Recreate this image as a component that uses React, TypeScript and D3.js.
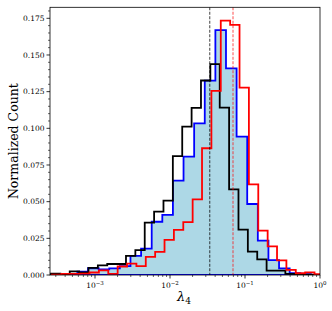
import React from 'react';
import * as d3 from 'd3';

const W = 332;
const H = 311;
const PLOT = { left: 50, right: 320, top: 7.3, bottom: 275 };

// log10 bin layout of each histogram
const blackStartLog = -3.587;
const blackBinLog = 0.125;
const blackValues = [
  0.001, 0.0004, 0.0025, 0.0018, 0.0048, 0.0065, 0.0075, 0.0075, 0.013, 0.017,
  0.0357, 0.0432, 0.0507, 0.0811, 0.1011, 0.114, 0.1326, 0.1437, 0.1141, 0.0584,
  0.031, 0.016, 0.0107, 0.003, 0.003, 0.0008, 0.0005, 0.0003,
];

const redStartLog = -3.573;
const redBinLog = 0.125;
const redValues = [
  0.0003, 0.0007, 0.0007, 0.001, 0.0017, 0.0031, 0.0007, 0.0058, 0.0078, 0.0061,
  0.0123, 0.0157, 0.0239, 0.0307, 0.036, 0.0516, 0.0864, 0.1255, 0.1734, 0.1705,
  0.1277, 0.0618, 0.0302, 0.0195, 0.01, 0.0035, 0.0012, 0.0018, 0.0005,
];

const blueStartLog = -3.5175;
const blueBinLog = 0.1415;
const blueValues = [
  0.0007, 0.0007, 0.0023, 0.0046, 0.0038, 0.0045, 0.006, 0.013, 0.018,
  0.0363, 0.041, 0.0643, 0.0807, 0.1034, 0.1325, 0.167, 0.1409, 0.0943, 0.0484,
  0.0234, 0.0102, 0.0045, 0.0012, 0.0005,
];

const blackMarker = 0.0338;
const redMarker = 0.0692;

const xDomain = [Math.pow(10, -3.6), 1];
const yDomain = [0, 0.1825];
const yTicks = [0, 0.025, 0.05, 0.075, 0.1, 0.125, 0.15, 0.175];
const yMinorStep = 0.005;
const xTickExps = [-3, -2, -1, 0];

const SERIF = "'DejaVu Serif', 'Liberation Serif', serif";

export default function App() {
  const x = d3.scaleLog().domain(xDomain).range([PLOT.left, PLOT.right]);
  const y = d3.scaleLinear().domain(yDomain).range([PLOT.bottom, PLOT.top]);

  const stepPath = (startLog: number, binLog: number, values: number[], closed: boolean) => {
    const edge = (i: number) => x(Math.pow(10, startLog + i * binLog));
    const pts: [number, number][] = [];
    pts.push([edge(0), y(0)]);
    values.forEach((v, i) => {
      pts.push([edge(i), y(v)]);
      pts.push([edge(i + 1), y(v)]);
    });
    pts.push([edge(values.length), y(0)]);
    const p = d3.line()(pts) as string;
    return closed ? p + 'Z' : p;
  };

  const yMinor: number[] = [];
  for (let v = 0; v <= yDomain[1] + 1e-9; v += yMinorStep) {
    const r = Math.round(v * 1000) / 1000;
    if (Math.abs(r / 0.025 - Math.round(r / 0.025)) > 1e-6) yMinor.push(r);
  }
  const xMinor: number[] = [];
  for (let d = -4; d <= -1; d++) {
    for (let m = 2; m <= 9; m++) {
      const v = m * Math.pow(10, d);
      if (v >= xDomain[0] && v <= xDomain[1]) xMinor.push(v);
    }
  }

  const bluePath = stepPath(blueStartLog, blueBinLog, blueValues, true);

  return (
    <svg
      width={W}
      height={H}
      viewBox={`0 0 ${W} ${H}`}
      style={{ position: 'absolute', left: 0, top: 0, background: '#fff' }}
    >
      <defs>
        <clipPath id="plotClip">
          <rect x={PLOT.left} y={PLOT.top} width={PLOT.right - PLOT.left} height={PLOT.bottom - PLOT.top} />
        </clipPath>
      </defs>
      <rect x={0} y={0} width={W} height={H} fill="#fff" />
      <g clipPath="url(#plotClip)">
        <path d={bluePath} fill="#add8e6" stroke="none" />
        <path d={bluePath} fill="none" stroke="#0000ff" strokeWidth={1.8} strokeLinejoin="miter" />
        <path d={stepPath(blackStartLog, blackBinLog, blackValues, false)} fill="none" stroke="#000" strokeWidth={1.8} />
        <path d={stepPath(redStartLog, redBinLog, redValues, false)} fill="none" stroke="#ff0000" strokeWidth={1.8} />
        <line x1={x(blackMarker)} x2={x(blackMarker)} y1={PLOT.top} y2={PLOT.bottom}
          stroke="#000" strokeOpacity={0.55} strokeWidth={1.4} strokeDasharray="3,1.5" />
        <line x1={x(redMarker)} x2={x(redMarker)} y1={PLOT.top} y2={PLOT.bottom}
          stroke="#ff0000" strokeOpacity={0.5} strokeWidth={1.4} strokeDasharray="3,1.5" />
      </g>
      <rect x={PLOT.left} y={PLOT.top} width={PLOT.right - PLOT.left} height={PLOT.bottom - PLOT.top}
        fill="none" stroke="#000" strokeWidth={0.8} />
      {/* y ticks */}
      {yTicks.map((t) => (
        <g key={'yt' + t}>
          <line x1={PLOT.left - 3.5} x2={PLOT.left} y1={y(t)} y2={y(t)} stroke="#000" strokeWidth={0.8} />
          <text x={PLOT.left - 5.5} y={y(t)} dy="0.35em" textAnchor="end" fontFamily={SERIF} fontSize={7.5} fill="#000">
            {t.toFixed(3)}
          </text>
        </g>
      ))}
      {yMinor.map((t) => (
        <line key={'ym' + t} x1={PLOT.left - 2} x2={PLOT.left} y1={y(t)} y2={y(t)} stroke="#000" strokeWidth={0.6} />
      ))}
      {/* x ticks */}
      {xTickExps.map((e) => (
        <g key={'xt' + e}>
          <line x1={x(Math.pow(10, e))} x2={x(Math.pow(10, e))} y1={PLOT.bottom} y2={PLOT.bottom + 3.5} stroke="#000" strokeWidth={0.8} />
          <text x={x(Math.pow(10, e))} y={PLOT.bottom + 13} textAnchor="middle" fontFamily={SERIF} fontSize={7.5} fill="#000">
            10
            <tspan dy={-3.5} fontSize={5.5}>{e < 0 ? '\u2212' + Math.abs(e) : String(e)}</tspan>
          </text>
        </g>
      ))}
      {xMinor.map((t) => (
        <line key={'xm' + t} x1={x(t)} x2={x(t)} y1={PLOT.bottom} y2={PLOT.bottom + 2} stroke="#000" strokeWidth={0.6} />
      ))}
      {/* axis labels */}
      <text
        transform={`translate(14, ${(PLOT.top + PLOT.bottom) / 2}) rotate(-90)`}
        textAnchor="middle"
        dy="0.35em"
        fontFamily={SERIF}
        fontSize={12.5}
        fill="#000"
      >
        Normalized Count
      </text>
      <text x={(PLOT.left + PLOT.right) / 2 - 1} y={301} textAnchor="middle" fontFamily={SERIF} fontSize={13} fill="#000">
        <tspan fontStyle="italic">λ</tspan>
        <tspan dy={3} fontSize={9}>4</tspan>
      </text>
    </svg>
  );
}
